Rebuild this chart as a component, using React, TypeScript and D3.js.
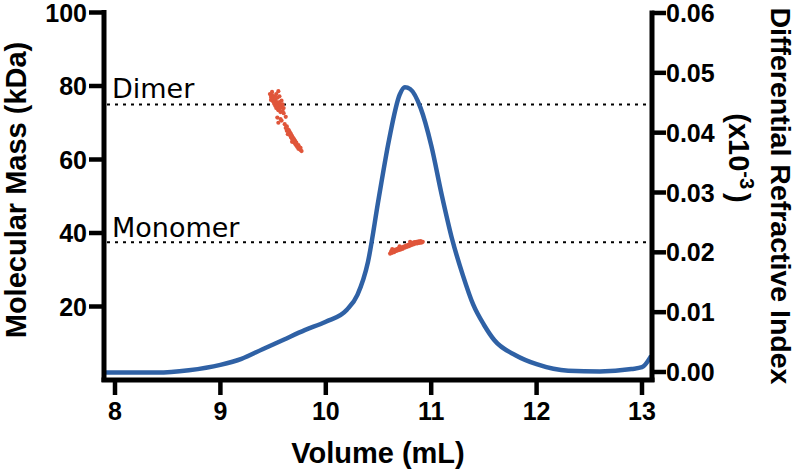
import React from 'react';
import * as d3 from 'd3';

const width = 796;
const height = 474;

// plot frame (pixel positions of the axes)
const frame = { left: 104, right: 652, bottom: 380, topLeft: 12.5, topRight: 13, zeroRight: 372 };

const xTicks = [8, 9, 10, 11, 12, 13];
const massTicks = [20, 40, 60, 80, 100];
const driTicks = [0, 0.01, 0.02, 0.03, 0.04, 0.05, 0.06];

const dimerMass = 75;
const monomerMass = 37.5;

// differential refractive index trace [volume, dRI]
const driTrace = [
    [7.9, -0.0001], [8.4, -0.0001], [8.7, 0.0003], [9.0, 0.0012], [9.2, 0.0022],
    [9.4, 0.0038], [9.6, 0.0054], [9.8, 0.007], [10.0, 0.0084], [10.2, 0.0104],
    [10.3, 0.0129], [10.4, 0.0184], [10.5, 0.0288], [10.6, 0.0388], [10.7, 0.0463],
    [10.75, 0.0476], [10.8, 0.0473], [10.9, 0.0441], [11.0, 0.0379], [11.1, 0.0296],
    [11.2, 0.0221], [11.3, 0.0162], [11.4, 0.0112], [11.5, 0.0079], [11.6, 0.0053],
    [11.8, 0.0028], [12.0, 0.0013], [12.3, 0.0002], [12.6, 0.0001], [12.9, 0.0005],
    [13.0, 0.0008], [13.08, 0.0025],
];

// molar mass points across the dimer peak [volume, kDa]
const dimerPoints = [
    [9.47, 77.8], [9.48, 77.0], [9.48, 76.2], [9.49, 77.5], [9.50, 76.6], [9.50, 75.8],
    [9.51, 77.2], [9.51, 75.2], [9.52, 76.4], [9.52, 74.6], [9.53, 75.7], [9.53, 74.0],
    [9.54, 76.8], [9.54, 75.0], [9.55, 78.6], [9.55, 74.4], [9.55, 73.4], [9.56, 75.6],
    [9.56, 73.8], [9.57, 74.8], [9.57, 72.9], [9.58, 76.0], [9.58, 74.2], [9.59, 73.2],
    [9.59, 75.0], [9.60, 72.6], [9.60, 74.0], [9.53, 77.8], [9.56, 77.2], [9.49, 78.4],
    [9.54, 71.4], [9.57, 71.0], [9.55, 70.0], [9.58, 70.6], [9.62, 71.6],
    [9.61, 69.6], [9.62, 68.6], [9.63, 69.0], [9.63, 67.8], [9.64, 68.2], [9.65, 67.0],
    [9.65, 67.9], [9.66, 66.6], [9.66, 67.4], [9.67, 66.0], [9.67, 66.9], [9.68, 65.6],
    [9.68, 66.4], [9.69, 65.0], [9.69, 65.9], [9.70, 64.6], [9.70, 65.5], [9.71, 64.2],
    [9.71, 65.0], [9.72, 63.8], [9.72, 64.6], [9.73, 63.4], [9.74, 63.9], [9.74, 62.9],
    [9.75, 63.3], [9.76, 62.6], [9.76, 63.2], [9.77, 62.3], [9.64, 66.9], [9.68, 64.8],
];

// molar mass points across the monomer peak [volume, kDa]
const monomerPoints = [
    [10.61, 34.4], [10.62, 35.0], [10.63, 34.6], [10.64, 35.3], [10.65, 34.8], [10.66, 35.5],
    [10.67, 35.1], [10.68, 35.7], [10.69, 35.3], [10.70, 35.9], [10.71, 35.5], [10.72, 36.1],
    [10.73, 35.7], [10.74, 36.3], [10.75, 36.0], [10.76, 36.6], [10.77, 36.2], [10.78, 36.8],
    [10.79, 36.4], [10.80, 37.0], [10.81, 36.7], [10.82, 37.3], [10.83, 36.9], [10.84, 37.5],
    [10.85, 37.1], [10.86, 37.6], [10.87, 37.2], [10.88, 37.7], [10.89, 37.3], [10.90, 37.8],
    [10.91, 37.4], [10.92, 37.6], [10.63, 35.6], [10.70, 36.4], [10.80, 37.6],
];

const blue = '#2f61a5';
const orange = '#e0553a';
const boldFont = '"Liberation Sans", Arial, sans-serif';

export default function App() {
    const x = d3.scaleLinear().domain([8, 13]).range([115, 642]);
    const yMass = d3.scaleLinear().domain([0, 100]).range([frame.bottom, frame.topLeft]);
    const yDri = d3.scaleLinear().domain([0, 0.06]).range([frame.zeroRight, frame.topRight]);

    const line = d3.line<number[]>()
        .x(d => x(d[0]))
        .y(d => yDri(d[1]))
        .curve(d3.curveMonotoneX);

    const points = [...dimerPoints, ...monomerPoints];

    return (
        <svg width={width} height={height} style={{ position: 'absolute', left: 0, top: 0, background: '#fff' }}>
            {/* reference lines */}
            {[dimerMass, monomerMass].map(m => (
                <line key={m} x1={frame.left + 3} x2={frame.right - 3} y1={yMass(m)} y2={yMass(m)}
                    stroke="#000" strokeWidth={2} strokeDasharray="3,5" />
            ))}
            <text x={112} y={98} fontFamily='"DejaVu Sans", sans-serif' fontSize={27}>Dimer</text>
            <text x={112} y={237} fontFamily='"DejaVu Sans", sans-serif' fontSize={27}>Monomer</text>

            {/* dRI trace */}
            <path d={line(driTrace) || ''} fill="none" stroke={blue} strokeWidth={4.5} strokeLinecap="round" />

            {/* molar mass */}
            {points.map((d, i) => (
                <circle key={i} cx={x(d[0])} cy={yMass(d[1])} r={2.1} fill={orange} />
            ))}

            {/* axes */}
            <g stroke="#000" strokeWidth={5}>
                <line x1={frame.left} x2={frame.left} y1={frame.topLeft - 2.5} y2={frame.bottom + 2} />
                <line x1={frame.right} x2={frame.right} y1={frame.topRight - 2.5} y2={frame.bottom + 2} />
                <line x1={frame.left - 2.5} x2={frame.right + 2.5} y1={frame.bottom} y2={frame.bottom} />
            </g>
            <g stroke="#000" strokeWidth={4.5}>
                {xTicks.map(t => (
                    <line key={t} x1={x(t)} x2={x(t)} y1={frame.bottom} y2={frame.bottom + 15} />
                ))}
                {massTicks.map(t => (
                    <line key={t} x1={frame.left - 15} x2={frame.left} y1={yMass(t)} y2={yMass(t)} />
                ))}
                {driTicks.map(t => (
                    <line key={t} x1={frame.right} x2={frame.right + 14} y1={yDri(t)} y2={yDri(t)} />
                ))}
            </g>

            <g fontFamily={boldFont} fontWeight="bold" fontSize={25} fill="#000">
                {xTicks.map(t => (
                    <text key={t} x={x(t)} y={420} textAnchor="middle">{t}</text>
                ))}
                {massTicks.map(t => (
                    <text key={t} x={87} y={yMass(t)} dy="0.36em" textAnchor="end">{t}</text>
                ))}
                {driTicks.map(t => (
                    <text key={t} x={666} y={yDri(t)} dy="0.36em">{d3.format('.2f')(t)}</text>
                ))}
            </g>

            <g fontFamily={boldFont} fontWeight="bold" fontSize={29} fill="#000">
                <text x={(frame.left + frame.right) / 2} y={463} textAnchor="middle">Volume (mL)</text>
                <text transform="translate(26,190) rotate(-90)" textAnchor="middle">Molecular Mass (kDa)</text>
                <text transform="translate(771,196) rotate(90)" fontSize={28.5} textAnchor="middle">Differential Refractive Index</text>
                <text transform="translate(729,158) rotate(90)" textAnchor="middle">
                    (x10<tspan fontSize={20} dy={-11}>-3</tspan><tspan dy={11} dx={4}>)</tspan>
                </text>
            </g>
        </svg>
    );
}
